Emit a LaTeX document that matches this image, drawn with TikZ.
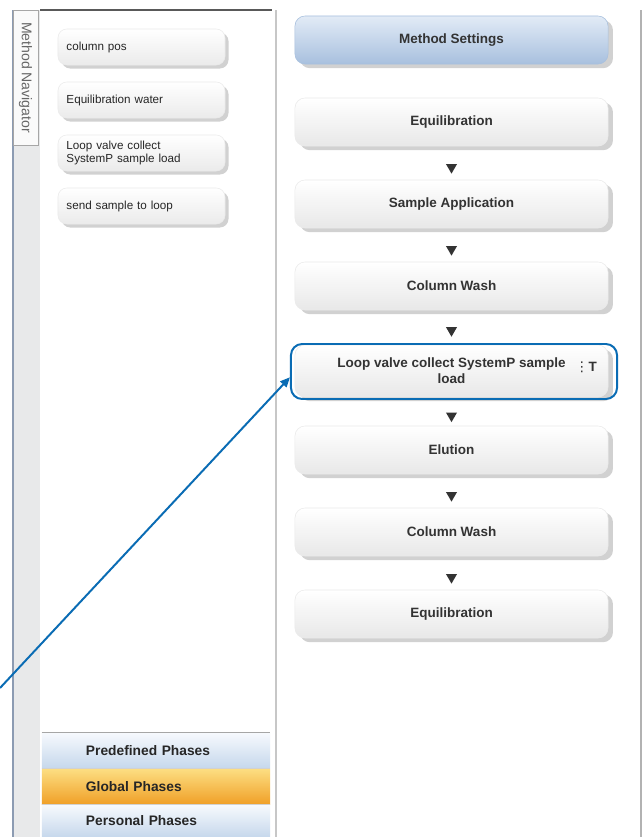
\documentclass[tikz,border=0pt]{standalone}
\usepackage{fontspec}
\setmainfont{Liberation Sans}
\newfontfamily\dotsfont{DejaVu Sans}
\usetikzlibrary{shapes.geometric,shadows,arrows.meta}
\definecolor{calloutblue}{RGB}{10,108,180}
\definecolor{navgray}{RGB}{232,233,234}
\definecolor{navline}{RGB}{140,155,178}
\definecolor{settop}{RGB}{226,235,246}
\definecolor{setbot}{RGB}{168,192,222}
\definecolor{bandtop}{RGB}{246,249,253}
\definecolor{bandbot}{RGB}{198,216,236}
\definecolor{globtop}{RGB}{252,222,130}
\definecolor{globbot}{RGB}{240,160,40}
\definecolor{phasetext}{RGB}{51,51,51}
\tikzset{
  phase/.style={rounded corners=0.25cm, draw=black!8, top color=white, bottom color=black!9,
    minimum width=7.825cm, minimum height=1.2cm, align=center,
    font=\fontsize{9.6}{11.5}\selectfont\bfseries, text=phasetext,
    drop shadow={shadow xshift=3.5pt, shadow yshift=-3pt, fill=black!40, opacity=0.45}},
  settings/.style={phase, top color=settop, bottom color=setbot, draw=setbot},
  lbox/.style={rounded corners=0.22cm, draw=black!8, top color=white, bottom color=black!8,
    text width=3.75cm, inner xsep=0.2125cm, minimum height=0.9cm, align=left,
    font=\fontsize{8.3}{9.8}\selectfont, text=black!85,
    drop shadow={shadow xshift=2.5pt, shadow yshift=-2.5pt, fill=black!40, opacity=0.45}},
  tri/.style={regular polygon, regular polygon sides=3, shape border rotate=180,
    fill=phasetext, inner sep=0, minimum size=0.32cm},
  band/.style={minimum width=5.7cm, minimum height=0.875cm, text width=4.6cm,
    inner xsep=0.55cm, inner ysep=0, align=left, top color=bandtop, bottom color=bandbot,
    font=\fontsize{9.8}{11}\selectfont\bfseries, text=black!85},
  navtab/.style={draw=black!35, fill=black!2, minimum width=3.375cm, minimum height=0.625cm,
    inner sep=0, font=\fontsize{10}{12}\selectfont, text=black!60},
  hlframe/.style={draw=calloutblue, line width=1.4pt, rounded corners=0.28cm,
    minimum width=8.15cm, minimum height=1.375cm, inner sep=0},
  callout/.style={calloutblue, line width=1.4pt, -{Triangle[length=7pt,width=6pt]}},
}
\begin{document}
\begin{tikzpicture}[x=0.025cm,y=-0.025cm]
\useasboundingbox (0,0) rectangle (643,837);
\fill[white] (0,0) rectangle (643,837);

\fill[navgray] (13,10) rectangle (40,837);
\draw[navline,line width=1pt] (13,10) -- (13,837);
\node[navtab,rotate=-90] (nav) at (25.5,77.5) {Method Navigator};
\draw[black!65,line width=0.8pt] (40,10) -- (272,10);
\draw[black!22,line width=1pt] (276,10) -- (276,837);
\draw[black!30,line width=1.4pt] (641,10) -- (641,837);

\node[lbox] (colpos) at (141.5,47) {column pos};
\node[lbox] (eqwater) at (141.5,100) {Equilibration water};
\node[lbox] (loopl) at (141.5,153) {Loop valve collect\\SystemP sample load};
\node[lbox] (sendl) at (141.5,206) {send sample to loop};

\node[band] (predef) at (156,750.5) {\hspace*{0.55cm}Predefined Phases};
\node[band,top color=globtop,bottom color=globbot] (global) at (156,786.5) {\hspace*{0.55cm}Global Phases};
\node[band,minimum height=0.8cm] (personal) at (156,821) {\hspace*{0.55cm}Personal Phases};
\draw[black!35,line width=0.8pt] (predef.north west) -- (predef.north east);
\draw[black!18] (predef.south west) -- (predef.south east);
\draw[black!18] (global.south west) -- (global.south east);

\node[settings] (mset) at (451.5,40) {Method Settings};
\node[phase] (eq1) at (451.5,122) {Equilibration};
\node[phase] (sa) at (451.5,204) {Sample Application};
\node[phase] (cw1) at (451.5,286) {Column Wash};
\node[phase,minimum height=1.3cm] (lv) at (451.5,371) {Loop valve collect SystemP sample\\load};
\node[phase] (el) at (451.5,450) {Elution};
\node[phase] (cw2) at (451.5,532) {Column Wash};
\node[phase] (eq2) at (451.5,614) {Equilibration};
\node[font=\fontsize{9.6}{11}\selectfont\bfseries,text=phasetext,inner sep=0] (lvT) at (586,367) {{\dotsfont\mdseries ⋮}T};

\path (eq1) -- (sa) node[midway,tri,yshift=-3pt] (t1) {};
\path (sa) -- (cw1) node[midway,tri,yshift=-3pt] (t2) {};
\path (cw1) -- (lv) node[midway,tri,yshift=-2pt] (t3) {};
\path (lv) -- (el) node[midway,tri,yshift=-3pt] (t4) {};
\path (el) -- (cw2) node[midway,tri,yshift=-3pt] (t5) {};
\path (cw2) -- (eq2) node[midway,tri,yshift=-3pt] (t6) {};

\node[hlframe] (hl) at (454,371.5) {};
\coordinate (src) at (0,688);
\draw[callout] (src) -- (hl.182);
\end{tikzpicture}
\end{document}
